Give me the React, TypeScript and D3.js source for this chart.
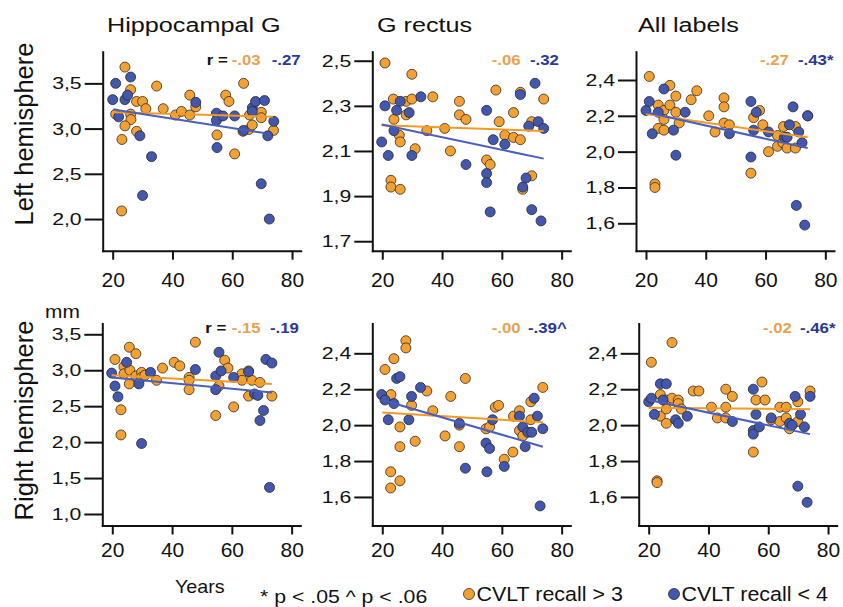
import React, { useEffect, useRef } from 'react'
import * as d3 from 'd3'

type Pt = [number, number]

// titles and labels
const columnTitles = ['Hippocampal G', 'G rectus', 'All labels']
const rowLabels = ['Left hemisphere', 'Right hemisphere']
const xTicks = [20, 40, 60, 80]

// correlation labels, one per panel (orange, blue)
const rOrange = ['-.03', '-.06', '-.27', '-.15', '-.00', '-.02']
const rBlue = ['-.27', '-.32', '-.43*', '-.19', '-.39^', '-.46*']

// y ticks per panel
const yTicksHipL = [2.0, 2.5, 3.0, 3.5]
const yTicksRecL = [1.7, 1.9, 2.1, 2.3, 2.5]
const yTicksAllL = [1.6, 1.8, 2.0, 2.2, 2.4]
const yTicksHipR = [1.0, 1.5, 2.0, 2.5, 3.0, 3.5]
const yTicksRecR = [1.6, 1.8, 2.0, 2.2, 2.4]
const yTicksAllR = [1.6, 1.8, 2.0, 2.2, 2.4]

// [age, thickness]
const hipLeftOrange: Pt[] = [[24.1,3.68],[34.7,3.47],[26,3.43],[28,3.30],[30,3.30],[31.1,3.22],[21,3.16],[26,3.16],[26.1,3.10],[24.1,3.03],[28,2.97],[23.1,2.88],[23,2.09],[36.9,3.22],[41,3.15],[43,3.19],[45.8,3.37],[45.8,3.15],[47.8,3.24],[57.8,3.37],[58.9,3.30],[63.8,3.50],[54.9,2.93],[55.8,3.14],[60.8,2.72],[63.6,2.97],[65.6,2.99],[66.7,3.04],[65.8,3.15],[69.7,3.18],[69.7,3.12],[73.8,2.98]]
const hipLeftBlue: Pt[] = [[20,3.32],[21,3.50],[22,3.13],[24.1,3.32],[25,3.37],[26,3.57],[29.1,2.92],[33,2.69],[30,2.26],[47.8,3.29],[54.7,3.17],[54.7,3.09],[54.9,2.79],[56.9,3.14],[60.8,3.14],[63.8,2.98],[66.7,3.23],[67.8,3.30],[66.7,3.19],[70.8,3.31],[69.7,2.39],[71.9,2.92],[73.9,3.08],[72.4,2.00]]

const recLeftOrange: Pt[] = [[20.9,2.49],[23.7,2.33],[23.9,2.24],[22.9,1.97],[22.9,1.94],[26,1.93],[25.7,2.17],[26,2.14],[28,2.26],[28,2.32],[29.9,2.33],[29.9,2.44],[31,2.11],[34.9,2.19],[36.9,2.34],[40.9,2.20],[42.8,2.10],[45.8,2.32],[45.8,2.26],[48,2.24],[54.9,2.06],[56.1,2.04],[58,2.37],[59.1,2.23],[61,2.17],[63.9,2.27],[63.9,2.16],[66.2,2.15],[66.2,2.36],[67,1.93],[70,1.99],[70,2.23],[74,2.33]]
const recLeftBlue: Pt[] = [[19.8,2.14],[20.9,2.30],[22,2.08],[23.9,2.19],[24.8,2.28],[26,2.32],[29,2.27],[29.9,2.08],[32.9,2.34],[48,2.04],[54.9,2.28],[54.9,2.00],[54.9,1.96],[56.1,1.83],[57.1,2.15],[61,2.13],[66.2,2.35],[67,1.94],[68.1,1.98],[69,2.21],[70,1.84],[71.1,2.40],[72.2,2.23],[73.1,1.79],[74,2.20]]

const allLeftOrange: Pt[] = [[21.1,2.42],[24.1,2.26],[26,2.23],[26,2.18],[24.1,2.13],[26,2.12],[28,2.26],[28,2.37],[30,2.31],[30,2.22],[31.1,2.16],[23,1.82],[23,1.80],[35.1,2.29],[37,2.34],[41,2.20],[43.1,2.11],[46.1,2.30],[46.1,2.25],[46.1,2.16],[47.9,2.15],[55.1,1.88],[56,2.19],[58,2.23],[59.1,2.15],[61,2.00],[64,2.09],[64,2.03],[66,2.14],[65.8,2.05],[67.2,2.02],[70,2.02],[70,2.14],[74.1,2.20]]
const allLeftBlue: Pt[] = [[20,2.23],[21.1,2.28],[22.1,2.10],[24.1,2.22],[26,2.35],[29.2,2.12],[30,1.98],[33.1,2.22],[47.9,2.10],[55.1,2.28],[55.1,1.97],[56,2.12],[56.9,2.22],[61,2.11],[66.3,2.08],[67.2,2.08],[68,2.15],[69.2,2.25],[70.3,1.70],[71.1,2.11],[72.2,2.05],[73.1,1.59],[74.1,2.20]]

const hipRightOrange: Pt[] = [[20.9,3.15],[22.9,2.45],[22.9,2.10],[23.9,3.05],[23.9,2.95],[25.7,3.32],[25.9,3.00],[25.7,2.81],[27.9,3.23],[27.9,2.92],[29.8,2.97],[29.8,2.90],[30.9,2.93],[34.8,2.86],[36.8,3.03],[40.7,3.11],[42.6,3.06],[45.7,2.90],[45.7,2.86],[45.7,2.73],[47.8,3.39],[54.6,2.37],[55.7,2.78],[57.6,3.14],[58.7,3.03],[60.6,2.49],[63.4,2.95],[63.4,2.86],[65.6,2.99],[65.6,2.64],[66.7,2.86],[69.4,2.83],[73.4,2.64]]
const hipRightBlue: Pt[] = [[19.8,2.96],[20.9,2.78],[21.9,2.63],[24.8,3.11],[28.9,2.81],[29.8,1.98],[32.8,2.97],[47.8,3.01],[54.6,2.92],[54.6,2.73],[55.7,3.25],[56.4,2.99],[60.6,2.90],[65.6,2.98],[67.6,2.67],[68.7,2.65],[69.4,2.30],[70.6,2.44],[71.4,3.15],[73.4,3.10],[72.6,1.37]]

const recRightOrange: Pt[] = [[20.9,2.31],[22.9,2.17],[23.9,2.37],[22.8,1.74],[22.8,1.65],[25.9,1.99],[25.9,1.88],[25.9,1.69],[27.9,2.47],[27.9,2.43],[29.8,2.11],[31,1.91],[34.9,2.19],[36.9,2.08],[41,1.94],[42.9,2.16],[45.8,2.00],[45.8,1.88],[47.8,2.26],[54.7,1.98],[55.9,1.99],[57.8,2.10],[58.9,2.11],[60.8,1.81],[63.7,1.85],[63.9,2.05],[65.9,2.08],[65.9,1.97],[67,1.94],[69.7,2.13],[69.7,2.03],[73.7,2.21]]
const recRightBlue: Pt[] = [[19.8,2.17],[20.9,2.14],[22,2.03],[23.9,2.12],[24.8,2.26],[25.9,2.27],[28.9,2.03],[29.8,2.16],[32.8,2.21],[45.8,2.01],[47.8,1.76],[54.7,1.90],[55,1.74],[55.9,1.87],[56.9,2.03],[60.8,1.77],[65.9,2.05],[67,1.99],[67.8,1.88],[68.7,1.96],[70,1.96],[70.8,2.15],[71.9,2.05],[73.7,1.98],[72.8,1.55]]

const allRightOrange: Pt[] = [[20.9,2.35],[23.9,2.17],[23.9,2.05],[22.8,1.69],[22.8,1.68],[25.9,2.14],[25.9,2.09],[25.9,2.01],[27.8,2.46],[27.8,2.15],[29.9,2.14],[29.9,2.12],[30.9,2.09],[34.9,2.19],[36.8,2.19],[41,2.10],[43,2.04],[45.8,2.20],[45.8,2.10],[45.8,2.04],[48,2.16],[55,1.85],[55.9,2.14],[57.9,2.24],[58.9,2.14],[61,2.03],[63.9,2.10],[63.9,2.02],[66,2.10],[66,2.04],[67.1,1.98],[69.9,2.13],[69.9,2.02],[74,2.19]]
const allRightBlue: Pt[] = [[20,2.13],[20.9,2.15],[21.9,2.06],[23.9,2.23],[24.8,2.14],[25.9,2.23],[29,2.03],[29.9,2.01],[32.9,2.05],[48,2.02],[55,2.20],[55,1.97],[55,1.95],[55.9,2.06],[57,1.99],[61,2.04],[67.1,2.01],[68,2.00],[69,2.16],[69.9,1.66],[70.8,2.06],[72.1,1.99],[73,1.57],[74,2.16]]

// regression line end points
const fitOrange: Pt[][] = [
  [[20.2,3.18],[73.6,3.13]],
  [[19.8,2.214],[74,2.189]],
  [[20,2.21],[74.1,2.08]],
  [[19.8,2.93],[73.4,2.81]],
  [[20,2.07],[73.7,2.016]],
  [[20,2.097],[74,2.089]],
]
const fitBlue: Pt[][] = [
  [[20.2,3.21],[70.8,2.95]],
  [[19.8,2.217],[74,2.066]],
  [[20,2.22],[74.1,2.02]],
  [[19.8,2.90],[73.4,2.69]],
  [[20,2.14],[73.7,1.88]],
  [[20,2.14],[74,1.95]],
]

const ORANGE = '#F5A132'
const BLUE = '#4257AD'
const ORANGE_LINE = '#F39A22'
const BLUE_LINE = '#4A5EBD'
const ORANGE_TXT = '#EBA24F'
const BLUE_TXT = '#2A3896'
const FONT = '"Liberation Sans", Arial, Helvetica, sans-serif'

const panels = [
  { orange: hipLeftOrange, blue: hipLeftBlue, yTicks: yTicksHipL, yDom: [1.65, 3.85], left: 102.7, top: 51.7, bottom: 250.7, row: 0, rO: 129, rB: 169, rEq: 104 },
  { orange: recLeftOrange, blue: recLeftBlue, yTicks: yTicksRecL, yDom: [1.658, 2.54], left: 372.3, top: 51.7, bottom: 250.7, row: 0, rO: 119.4, rB: 157.7 },
  { orange: allLeftOrange, blue: allLeftBlue, yTicks: yTicksAllL, yDom: [1.447, 2.558], left: 636, top: 51.7, bottom: 250.7, row: 0, rO: 124, rB: 162 },
  { orange: hipRightOrange, blue: hipRightBlue, yTicks: yTicksHipR, yDom: [0.84, 3.65], left: 102.3, top: 323.5, bottom: 525.5, row: 1, rO: 129.4, rB: 167.7, rEq: 103 },
  { orange: recRightOrange, blue: recRightBlue, yTicks: yTicksRecR, yDom: [1.441, 2.566], left: 372.3, top: 323.5, bottom: 525.5, row: 1, rO: 119.4, rB: 155.7 },
  { orange: allRightOrange, blue: allRightBlue, yTicks: yTicksAllR, yDom: [1.441, 2.566], left: 638.7, top: 323.5, bottom: 525.5, row: 1, rO: 124.3, rB: 161.3 },
]

// text with horizontal stretch to mimic the source figure
function addText(g: any, str: string, x: number, y: number, size: number, sx: number, opts: any = {}) {
  return g.append('text')
    .attr('transform', `translate(${x},${y}) scale(${sx},1)`)
    .attr('font-size', size)
    .attr('font-family', FONT)
    .attr('font-weight', opts.weight || 'normal')
    .attr('fill', opts.fill || '#111')
    .attr('text-anchor', opts.anchor || 'start')
    .text(str)
}

export default function App() {
  const ref = useRef<SVGSVGElement>(null)

  useEffect(() => {
    const svg = d3.select(ref.current)
    svg.selectAll('*').remove()

    const fmt = (d: any) => d3.format('.1f')(d).replace('.', ',')

    panels.forEach((p, i) => {
      const g = svg.append('g')
      const x = d3.scaleLinear().domain([16.66, 82.9]).range([p.left, p.left + 198])
      const y = d3.scaleLinear().domain(p.yDom).range([p.bottom, p.top])

      // dots
      const drawDots = (data: Pt[], fill: string) => {
        g.selectAll(null)
          .data(data)
          .enter()
          .append('circle')
          .attr('cx', d => x(d[0]))
          .attr('cy', d => y(d[1]))
          .attr('r', 5)
          .attr('fill', fill)
          .attr('stroke', '#2b2b2b')
          .attr('stroke-width', 0.8)
      }
      drawDots(p.orange, ORANGE)
      drawDots(p.blue, BLUE)

      // fit lines
      const line = d3.line<Pt>().x(d => x(d[0])).y(d => y(d[1]))
      g.append('path').attr('d', line(fitOrange[i])).attr('stroke', ORANGE_LINE).attr('stroke-width', 2).attr('fill', 'none')
      g.append('path').attr('d', line(fitBlue[i])).attr('stroke', BLUE_LINE).attr('stroke-width', 2).attr('fill', 'none')

      // y axis
      const ya = g.append('g')
        .attr('transform', `translate(${p.left},0)`)
        .call(d3.axisLeft(y).tickValues(p.yTicks).tickSize(18).tickSizeOuter(0).tickFormat(fmt))
      ya.select('.domain').attr('stroke', '#111').attr('stroke-width', 2).attr('stroke-linecap', 'square')
      ya.selectAll('.tick line').attr('stroke', '#111').attr('stroke-width', 2)
      ya.selectAll('.tick text')
        .attr('x', 0)
        .attr('transform', 'translate(-21,0) scale(1.25,1)')
        .attr('font-size', 17)
        .attr('font-family', FONT)
        .attr('fill', '#111')

      // x axis
      const xa = g.append('g')
        .attr('transform', `translate(0,${p.bottom})`)
        .call(d3.axisBottom(x).tickValues(xTicks).tickSize(9).tickSizeOuter(0).tickPadding(p.row === 0 ? 12 : 8))
      xa.select('.domain').attr('stroke', '#111').attr('stroke-width', 2).attr('stroke-linecap', 'square')
      xa.selectAll('.tick line').attr('stroke', '#111').attr('stroke-width', 2)
      xa.selectAll('.tick text')
        .attr('font-size', 21)
        .attr('font-family', FONT)
        .attr('fill', '#111')

      // r labels
      const ry = p.row === 0 ? 65 : 333
      if (p.rEq) addText(g, 'r =', p.left + p.rEq, ry, 14, 1.2, { weight: 'bold', fill: '#111' })
      addText(g, rOrange[i], p.left + p.rO, ry, 14, 1.2, { weight: 'bold', fill: ORANGE_TXT })
      addText(g, rBlue[i], p.left + p.rB, ry, 14, 1.2, { weight: 'bold', fill: BLUE_TXT })
    })

    // column titles
    const titleX = [107, 377, 638]
    columnTitles.forEach((t, i) => addText(svg, t, titleX[i], 32, 21, 1.2))

    // row labels
    const rowY = [134, 420.5]
    rowLabels.forEach((t, i) => {
      svg.append('text')
        .attr('transform', `translate(33,${rowY[i]}) rotate(-90)`)
        .attr('text-anchor', 'middle')
        .attr('font-size', 25.5)
        .attr('font-family', FONT)
        .attr('fill', '#111')
        .text(t)
    })

    addText(svg, 'mm', 45, 318, 19, 1.1)
    addText(svg, 'Years', 175, 593, 18.6, 1.06)
    addText(svg, '* p < .05 ^ p < .06', 260, 603, 19, 1.12)

    // legend
    const legend = [
      { label: 'CVLT recall > 3', fill: ORANGE, cx: 469 },
      { label: 'CVLT recall < 4', fill: BLUE, cx: 674 },
    ]
    legend.forEach(l => {
      svg.append('circle').attr('cx', l.cx).attr('cy', 594).attr('r', 5.5)
        .attr('fill', l.fill).attr('stroke', '#2b2b2b').attr('stroke-width', 0.8)
      addText(svg, l.label, l.cx + 7.5, 600.5, 19.5, 1.1)
    })
  }, [])

  return (
    <svg ref={ref} width={843} height={607}
      style={{ position: 'absolute', left: 0, top: 0, background: '#fff' }} />
  )
}
